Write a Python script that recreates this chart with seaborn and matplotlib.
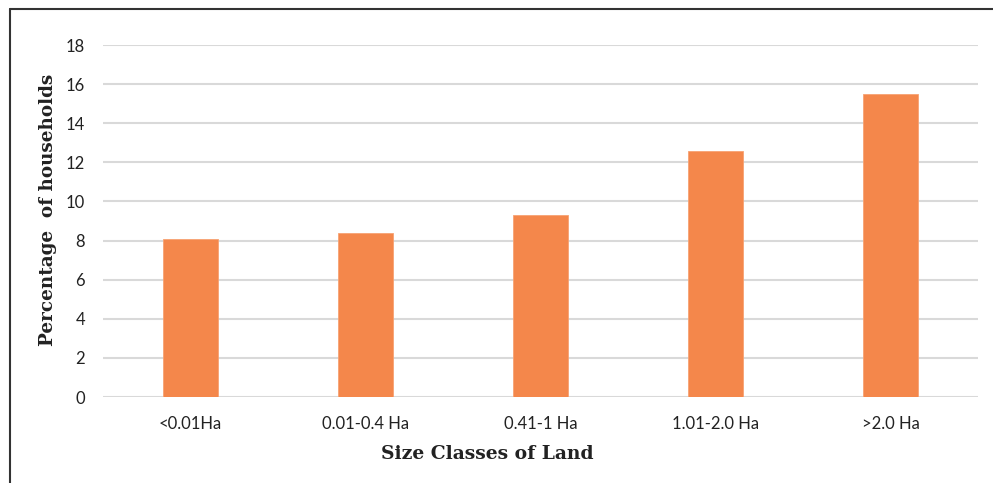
import matplotlib
matplotlib.use("Agg")
import matplotlib.pyplot as plt
import seaborn as sns
import pandas as pd
from matplotlib.lines import Line2D

categories = ["<0.01Ha", "0.01-0.4 Ha", "0.41-1 Ha", "1.01-2.0 Ha", ">2.0 Ha"]
values = [8.1, 8.4, 9.3, 12.6, 15.5]
yticks = [0, 2, 4, 6, 8, 10, 12, 14, 16, 18]

df = pd.DataFrame({"cat": categories, "val": values})

sns.set_style("white")
plt.rcParams["font.family"] = ["Lato", "DejaVu Sans"]

W, H = 993, 483
L, R, B, T = 103, 978, 397, 45
fig = plt.figure(figsize=(W / 100, H / 100), dpi=100)
ax = fig.add_axes([L / W, 1 - B / H, (R - L) / W, (B - T) / H])

sns.barplot(data=df, x="cat", y="val", color="#F4874B", saturation=1,
            width=0.314, ax=ax, zorder=3, edgecolor="#F7A273", linewidth=0.6)

ax.set_ylim(0, 18)
ax.set_xlim(-0.5, len(categories) - 0.5)
ax.set_yticks(yticks)
ax.set_yticklabels([str(t) for t in yticks])
ax.yaxis.grid(True, color="#d9d9d9", linewidth=1.5, zorder=0)
ax.xaxis.grid(False)
for s in ax.spines.values():
    s.set_visible(False)
ax.tick_params(axis="both", length=0, labelsize=12, colors="#222222")
ax.tick_params(axis="y", pad=13)
ax.tick_params(axis="x", pad=14)

ax.set_xlabel("Size Classes of Land", fontfamily="DejaVu Serif",
              fontweight="bold", fontsize=13.5, color="#222222", va="top")
ax.set_ylabel("Percentage  of households", fontfamily="DejaVu Serif",
              fontweight="bold", fontsize=13.2, color="#222222", va="bottom")
pw, ph = R - L, B - T
ax.xaxis.set_label_coords((487 - L) / pw, (B - 445) / ph)
ax.yaxis.set_label_coords((57 - L) / pw, (B - 210) / ph)

# outer frame (top and left visible)
fig.add_artist(Line2D([10 / W, 1], [1 - 9 / H, 1 - 9 / H], color="#333333",
                      linewidth=1.5, transform=fig.transFigure))
fig.add_artist(Line2D([10 / W, 10 / W], [0, 1 - 9 / H], color="#333333",
                      linewidth=1.5, transform=fig.transFigure))

fig.savefig("out.png", dpi=100)
